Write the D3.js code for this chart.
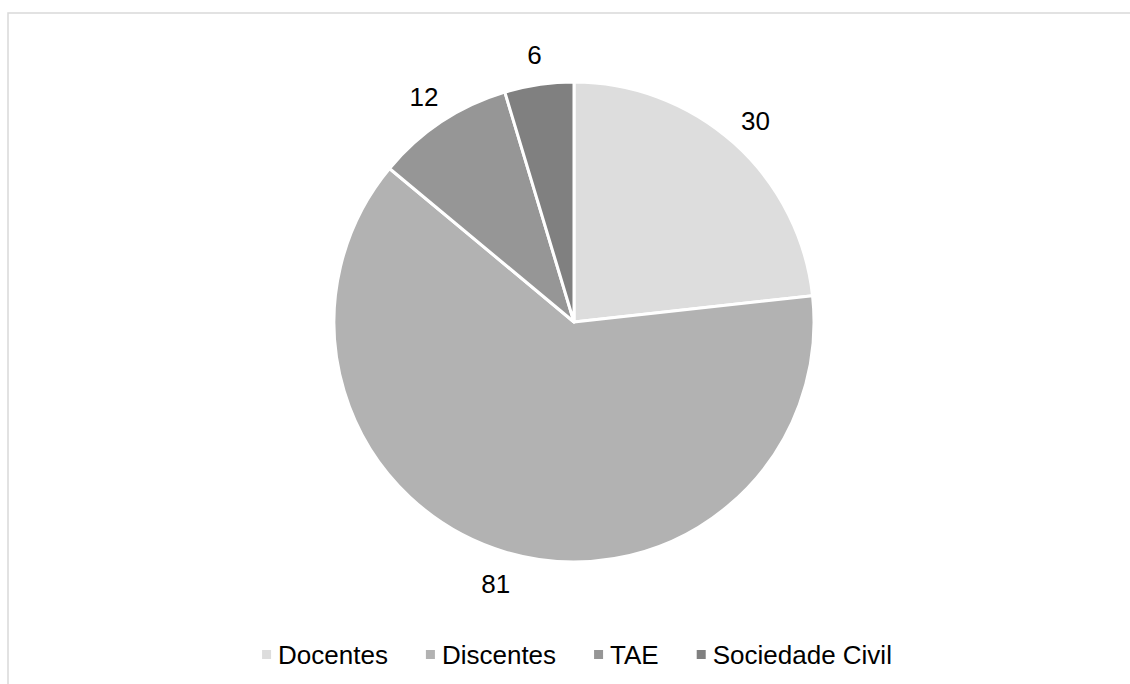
<!DOCTYPE html>
<html>
<head>
<meta charset="utf-8">
<script src="https://cdn.jsdelivr.net/npm/d3@7"></script>
<style>
	html, body { margin: 0; padding: 0; background: #fff; overflow: hidden; }
	svg { display: block; font-family: "Liberation Sans", Arial, sans-serif; }
</style>
</head>
<body>
<div id="chart"></div>
<script>
// data
const categories = ['Docentes', 'Discentes', 'TAE', 'Sociedade Civil']
const values = [30, 81, 12, 6]
const colors = ['#dddddd', '#b2b2b2', '#969696', '#808080']

const width = 1130
const height = 684
const cx = 574
const cy = 322
const radius = 240
const labelRadius = 272

const svg = d3.select('#chart')
	.append('svg')
	.attr('width', width)
	.attr('height', height)

// chart frame (runs off the right and bottom of the picture)
svg.append('rect')
	.attr('x', 8)
	.attr('y', 13)
	.attr('width', 1200)
	.attr('height', 800)
	.attr('fill', 'none')
	.attr('stroke', '#d9d9d9')
	.attr('stroke-width', 1.5)

const data = categories.map((c, i) => ({ name: c, value: values[i], color: colors[i] }))

const pie = d3.pie()
	.sort(null)
	.value(d => d.value)
const arcs = pie(data)

const arc = d3.arc().innerRadius(0).outerRadius(radius)
const labelArc = d3.arc().innerRadius(labelRadius).outerRadius(labelRadius)

const g = svg.append('g')
	.attr('transform', 'translate(' + cx + ',' + cy + ')')

g.selectAll('path')
	.data(arcs)
	.join('path')
	.attr('d', arc)
	.attr('fill', d => d.data.color)
	.attr('stroke', '#ffffff')
	.attr('stroke-width', 3)
	.attr('stroke-linejoin', 'round')

g.selectAll('text.label')
	.data(arcs)
	.join('text')
	.attr('class', 'label')
	.attr('x', d => labelArc.centroid(d)[0])
	.attr('y', d => labelArc.centroid(d)[1] + 2)
	.attr('text-anchor', 'middle')
	.attr('dominant-baseline', 'central')
	.attr('font-size', 26)
	.attr('fill', '#000')
	.text(d => d.data.value)

// legend, centred under the pie
const legend = svg.append('g')
const items = legend.selectAll('g')
	.data(data)
	.join('g')
items.append('rect')
	.attr('width', 9)
	.attr('height', 9)
	.attr('y', -5)
	.attr('fill', d => d.color)
items.append('text')
	.attr('x', 16)
	.attr('dominant-baseline', 'central')
	.attr('font-size', 26)
	.attr('fill', '#000')
	.text(d => d.name)

const gap = 38
let offset = 0
items.each(function() {
	const w = this.querySelector('text').getComputedTextLength()
	d3.select(this).attr('transform', 'translate(' + offset + ',0)')
	offset += 16 + w + gap
})
const total = offset - gap
legend.attr('transform', 'translate(' + (cx + 3 - total / 2) + ',655)')
</script>
</body>
</html>
